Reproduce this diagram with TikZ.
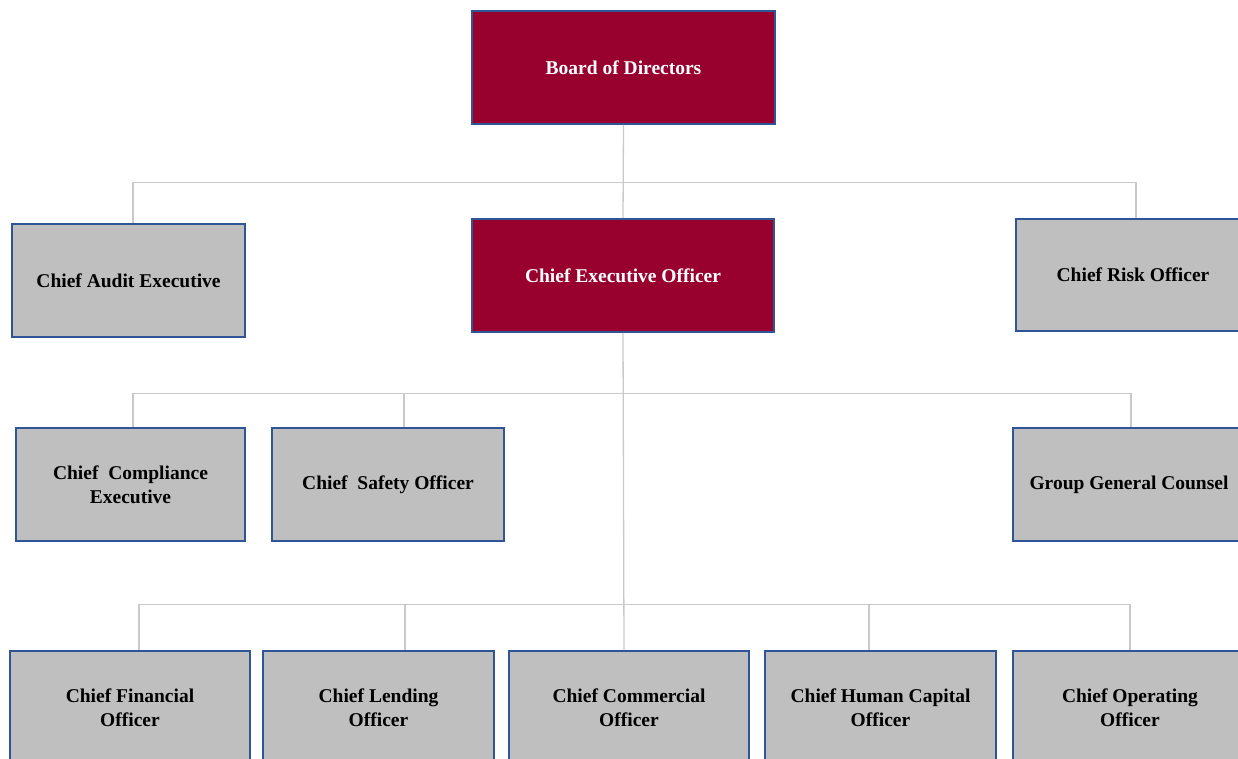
\documentclass[tikz,border=0pt]{standalone}
\usepackage{fontspec}
\setmainfont{Liberation Serif}
\definecolor{crim}{HTML}{98002E}
\definecolor{boxblue}{HTML}{2F5597}
\definecolor{boxgrey}{HTML}{BFBFBF}
\definecolor{linegrey}{HTML}{C9C9C9}
\begin{document}
\begin{tikzpicture}[x=1pt,y=-1pt,
  box/.style={draw=boxblue, line width=1.6pt, rectangle, inner sep=0pt,
    align=center, font=\bfseries\fontsize{19.5}{24}\selectfont},
  greybox/.style={box, fill=boxgrey, text=black},
  redbox/.style={box, fill=crim, text=white},
  conn/.style={draw=linegrey, line width=1.3pt}]
\useasboundingbox (0,0) rectangle (1238,758);
\clip (0,0) rectangle (1238,758);

% top level
\node[redbox, minimum width=303pt, minimum height=113pt] (board) at (623.5,67.5) {Board of Directors};
\node[greybox, minimum width=233pt, minimum height=113pt] (cae) at (128.5,280.5) {Chief Audit Executive};
\node[redbox, minimum width=302pt, minimum height=113pt] (ceo) at (623,275.5) {Chief Executive Officer};
\node[greybox, minimum width=234pt, minimum height=112pt] (cro) at (1133,275) {Chief Risk Officer};

% second level
\node[greybox, minimum width=229pt, minimum height=113pt] (cce) at (130.5,484.5) {Chief\ \ Compliance\\Executive};
\node[greybox, minimum width=232pt, minimum height=113pt] (cso) at (388,484.5) {Chief\ \ Safety Officer};
\node[greybox, minimum width=232pt, minimum height=113pt] (ggc) at (1129,484.5) {Group General Counsel};

% third level
\node[greybox, minimum width=240pt, minimum height=113pt] (cfo) at (130,707.5) {Chief Financial\\Officer};
\node[greybox, minimum width=231pt, minimum height=113pt] (clo) at (378.5,707.5) {Chief Lending\\Officer};
\node[greybox, minimum width=240pt, minimum height=113pt] (cco) at (629,707.5) {Chief Commercial\\Officer};
\node[greybox, minimum width=231pt, minimum height=113pt] (chco) at (880.5,707.5) {Chief Human Capital\\Officer};
\node[greybox, minimum width=234pt, minimum height=113pt] (coo) at (1130,707.5) {Chief Operating\\Officer};

% connectors
\draw[conn] (board.south) -- (ceo.north);
\draw[conn] ([xshift=4.5pt]cae.north) -- ++(0,-41) -| ([xshift=3pt]cro.north);

\draw[conn] ([xshift=2.5pt]cce.north) -- ++(0,-34) -| ([xshift=2pt]ggc.north);
\draw[conn] ([xshift=16pt]cso.north) -- ++(0,-34);

\draw[conn] (ceo.south) -- ([xshift=-5pt]cco.north);
\draw[conn] ([xshift=9pt]cfo.north) -- ++(0,-46) -| (coo.north);
\draw[conn] ([xshift=26.5pt]clo.north) -- ++(0,-46);
\draw[conn] ([xshift=-11.5pt]chco.north) -- ++(0,-46);
\end{tikzpicture}
\end{document}
